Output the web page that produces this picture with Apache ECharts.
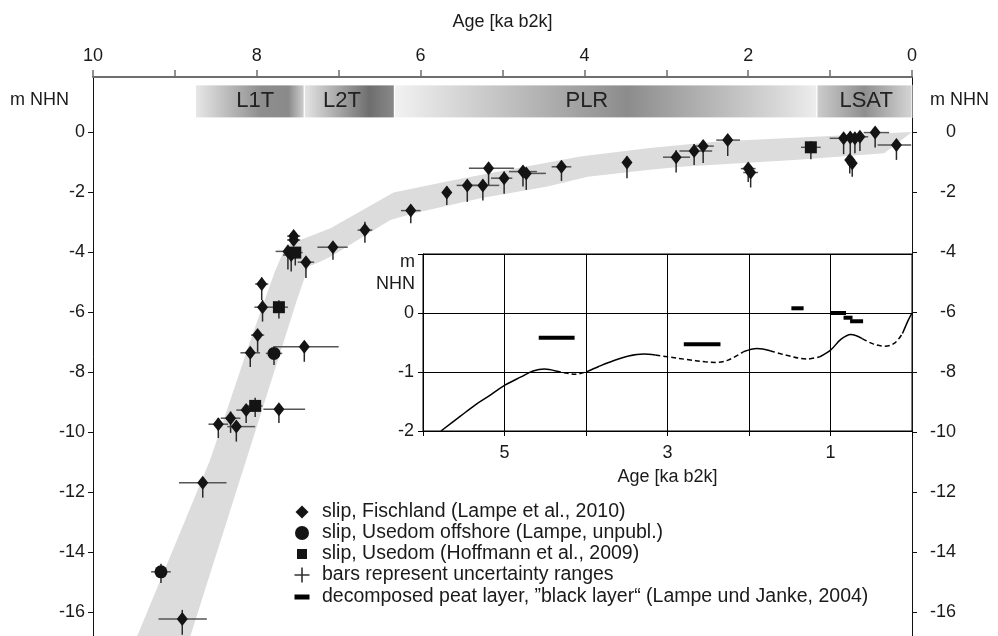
<!DOCTYPE html>
<html><head><meta charset="utf-8">
<script src="https://cdn.jsdelivr.net/npm/echarts@6/dist/echarts.min.js"></script>
<style>html,body{margin:0;padding:0;background:#fff}#c{width:998px;height:636px}</style>
</head><body><div id="c"></div>
<script>
// ---------------- DATA ----------------
// tick labels
const topAgeLabels = [10, 8, 6, 4, 2, 0];
const depthLabels = [0, -2, -4, -6, -8, -10, -12, -14, -16];
const insetAgeLabels = [5, 3, 1];
const insetDepthLabels = [0, -1, -2];

// series names
const nameFisch = 'slip, Fischland (Lampe et al., 2010)';
const nameOff = 'slip, Usedom offshore (Lampe, unpubl.)';
const nameUse = 'slip, Usedom (Hoffmann et al., 2009)';
const nameBars = 'bars represent uncertainty ranges';
const namePeat = 'decomposed peat layer, \u201Dblack layer\u201C (Lampe und Janke, 2004)';

// [age ka b2k, m NHN]
const fischlandPts = [
  [8.91,-16.23],[8.66,-11.69],[8.47,-9.74],[8.32,-9.54],[8.25,-9.82],[8.13,-9.27],[7.73,-9.24],
  [8.08,-7.36],[7.42,-7.16],[7.99,-6.77],[7.93,-5.84],[7.94,-5.07],[7.40,-4.34],[7.62,-3.98],
  [7.58,-4.10],[7.55,-3.47],[7.55,-3.60],[7.07,-3.84],[6.68,-3.27],[6.12,-2.62],[5.68,-2.02],
  [5.43,-1.78],[5.24,-1.78],[5.17,-1.21],[4.98,-1.54],[4.75,-1.32],[4.71,-1.38],[4.28,-1.16],
  [3.48,-1.02],[2.88,-0.84],[2.66,-0.63],[2.55,-0.47],[2.25,-0.27],[2.00,-1.22],[1.97,-1.35],
  [0.835,-0.21],[0.754,-0.18],[0.697,-0.21],[0.636,-0.16],[0.76,-0.93],[0.73,-1.04],
  [0.45,-0.02],[0.19,-0.43]
];
// uncertainty: [older ka, younger ka, up m, down m]
const fischlandErr = [
  [0.29,0.30,0.30,0.53],[0.29,0.29,0.16,0.50],[0.12,0.12,0.20,0.46],[0.12,0.12,0.22,0.49],
  [0.11,0.23,0.13,0.50],[0.12,0.12,0.13,0.43],[0.19,0.32,0.13,0.46],[0.12,0.12,0.15,0.47],
  [0.38,0.42,0.17,0.50],[0.08,0.08,0.13,0.56],[0.10,0.09,0.24,0.48],[0.08,0.08,0.22,0.53],
  [0.10,0.10,0.17,0.53],[0.15,0.15,0.13,0.60],[0.10,0.10,0.10,0.55],[0.08,0.08,0.17,0.10],
  [0.08,0.08,0.10,0.15],[0.19,0.18,0.13,0.42],[0.09,0.09,0.28,0.42],[0.12,0.12,0.19,0.42],
  [0.05,0.05,0.20,0.41],[0.13,0.13,0.16,0.55],[0.15,0.20,0.20,0.50],[0.24,0.31,0.10,0.56],
  [0.16,0.10,0.22,0.52],[0.17,0.17,0.17,0.50],[0.07,0.24,0.10,0.55],[0.12,0.12,0.20,0.47],
  [0.03,0.03,0.20,0.52],[0.16,0.17,0.23,0.51],[0.18,0.22,0.23,0.47],[0.11,0.13,0.14,0.56],
  [0.14,0.15,0.17,0.53],[0.09,0.09,0.17,0.45],[0.09,0.09,0.10,0.50],[0.17,0.05,0.10,0.53],
  [0.05,0.05,0.10,0.55],[0.05,0.05,0.10,0.50],[0.05,0.10,0.10,0.47],[0.05,0.05,0.15,0.45],
  [0.05,0.05,0.10,0.45],[0.14,0.17,0.16,0.50],[0.23,0.18,0.17,0.50]
];
const offshorePts = [[7.79,-7.38],[9.17,-14.66]];
const offshoreErr = [[0.10,0.10,0.13,0.39],[0.12,0.12,0.27,0.37]];
const usedomPts = [[7.53,-4.02],[7.73,-5.84],[8.02,-9.13],[1.235,-0.51]];
const usedomErr = [[0.09,0.09,0.10,0.43],[0.11,0.11,0.23,0.38],[0.09,0.09,0.27,0.37],[0.12,0.12,0.20,0.40]];

// sea-level envelope (grey band): upper edge then lower edge
const bandUpper = [[9.64,-18],[9.46,-16.8],[8.57,-10.93],[8.06,-6.8],[7.78,-4.66],[7.64,-3.77],[7.47,-3.6],
  [7.10,-3.21],[6.33,-2.02],[5.68,-1.65],[5.27,-1.43],[4.05,-0.82],[3.23,-0.54],[2.375,-0.32],[1.56,-0.21],[0.0,0.0]];
const bandLower = [[0.0,0.0],[0.34,-0.71],[1.44,-0.93],[2.82,-1.16],[3.23,-1.27],[3.96,-1.49],[4.45,-1.82],
  [5.27,-2.21],[6.08,-2.71],[6.37,-2.93],[7.10,-4.16],[7.22,-4.32],[7.37,-4.49],[7.51,-5.6],[8.95,-18]];

// phases
const phaseNames = ['L1T', 'L2T', 'PLR', 'LSAT'];
const phaseStart = [8.75, 7.42, 6.32, 1.16];
const phaseEnd = [7.42, 6.32, 1.16, 0.0];

// inset: black layer bars [start ka, end ka, m NHN]
const peatBars = [[4.58,4.14,-0.42],[2.80,2.35,-0.53],[1.48,1.33,0.08],[1.00,0.81,0.0],[0.84,0.73,-0.08],[0.76,0.60,-0.14]];
// inset curve [age, m NHN, dashed segment to next point]
const insetCurve = [
  [5.78,-2.0,0],[5.545,-1.753,0],[5.357,-1.556,0],[5.17,-1.388,0],[4.99,-1.219,0],[4.79,-1.079,0],
  [4.65,-0.983,0],[4.51,-0.949,0],[4.37,-0.983,1],[4.23,-1.022,1],[4.135,-1.039,1],[3.99,-0.994,0],
  [3.85,-0.91,0],[3.665,-0.809,0],[3.477,-0.73,0],[3.29,-0.697,0],[3.15,-0.713,1],[3.0,-0.742,1],
  [2.77,-0.787,1],[2.54,-0.826,1],[2.40,-0.837,1],[2.256,-0.798,1],[2.07,-0.657,0],[1.90,-0.60,0],
  [1.74,-0.64,1],[1.55,-0.713,1],[1.29,-0.78,1],[1.13,-0.742,0],[1.0,-0.63,0],[0.87,-0.444,0],
  [0.75,-0.365,0],[0.61,-0.433,1],[0.47,-0.528,1],[0.33,-0.562,1],[0.21,-0.506,1],[0.117,-0.348,0],
  [0.047,-0.124,0],[0,0,0]
];

// ---------------- STYLE / LAYOUT ----------------
const FONT = '"Liberation Sans", Arial, Helvetica, sans-serif';
const PHASE_Y = [1.57, 0.47];
const phaseLabelAge = [8.02, 6.96, 3.97, 0.56];
const phaseStops = [
  [[0,'#e8e8e8'],[0.6,'#8e8e8e'],[0.85,'#8a8a8a'],[1,'#d2d2d2']],
  [[0,'#e6e6e6'],[0.72,'#6e6e6e'],[1,'#8a8a8a']],
  [[0,'#f2f2f2'],[0.55,'#8c8c8c'],[0.92,'#dadada'],[1,'#eeeeee']],
  [[0,'#cdcdcd'],[0.5,'#8f8f8f'],[1,'#d6d6d6']]
];

function errRows(pts, errs) { return pts.map((p, i) => [p[0], p[1]].concat(errs[i])); }
const errData = errRows(fischlandPts, fischlandErr).concat(errRows(offshorePts, offshoreErr), errRows(usedomPts, usedomErr));

function pieces(flag) {
  const out = []; let cur = null;
  for (let i = 0; i < insetCurve.length - 1; i++) {
    if (insetCurve[i][2] === flag) {
      if (!cur) { cur = [[insetCurve[i][0], insetCurve[i][1]]]; out.push(cur); }
      cur.push([insetCurve[i + 1][0], insetCurve[i + 1][1]]);
    } else cur = null;
  }
  return out;
}

const chart = echarts.init(document.getElementById('c'), null, { renderer: 'canvas' });
const txt = { fontFamily: FONT, fontSize: 18, color: '#1a1a1a' };

const series = [
  {
    type: 'custom', name: 'band', xAxisIndex: 0, yAxisIndex: 0, z: 1, silent: true,
    data: [[0, 0]],
    renderItem: function (params, api) {
      const pts = bandUpper.concat(bandLower).map(p => api.coord(p));
      return { type: 'polygon', shape: { points: pts }, style: { fill: '#dcdcdc' } };
    }
  },
  {
    type: 'custom', name: 'phases', xAxisIndex: 0, yAxisIndex: 0, z: 3, silent: true,
    data: phaseNames.map((n, i) => ({ name: n, value: [phaseStart[i], phaseEnd[i], i] })),
    renderItem: function (params, api) {
      const i = api.value(2);
      const a = api.coord([api.value(0), PHASE_Y[0]]);
      const b = api.coord([api.value(1), PHASE_Y[1]]);
      const c = api.coord([phaseLabelAge[i], (PHASE_Y[0] + PHASE_Y[1]) / 2]);
      return {
        type: 'group', children: [
          { type: 'rect', shape: { x: a[0], y: a[1], width: b[0] - a[0], height: b[1] - a[1] },
            style: { fill: new echarts.graphic.LinearGradient(0, 0, 1, 0, phaseStops[i].map(s => ({ offset: s[0], color: s[1] }))), stroke: '#fff', lineWidth: 1 } },
          { type: 'text', x: c[0], y: c[1], style: { text: phaseNames[i], fill: '#222', font: '22px ' + FONT, align: 'center', verticalAlign: 'middle' } }
        ]
      };
    }
  },
  {
    type: 'custom', name: nameBars, xAxisIndex: 0, yAxisIndex: 0, z: 4, silent: true,
    itemStyle: { color: '#333' },
    data: errData,
    renderItem: function (params, api) {
      const x = api.value(0), y = api.value(1);
      const h0 = api.coord([x + api.value(2), y]), h1 = api.coord([x - api.value(3), y]);
      const v0 = api.coord([x, y + api.value(4)]), v1 = api.coord([x, y - api.value(5)]);
      return {
        type: 'group', children: [
          { type: 'line', shape: { x1: h0[0], y1: h0[1], x2: h1[0], y2: h1[1] }, style: { stroke: '#555', lineWidth: 1.5 } },
          { type: 'line', shape: { x1: v0[0], y1: v0[1], x2: v1[0], y2: v1[1] }, style: { stroke: '#2a2a2a', lineWidth: 1.5 } }
        ]
      };
    }
  },
  { type: 'scatter', name: nameFisch, xAxisIndex: 0, yAxisIndex: 0, z: 5, symbol: 'diamond', symbolSize: [11, 14], itemStyle: { color: '#141414', opacity: 1 }, data: fischlandPts, silent: true },
  { type: 'scatter', name: nameOff, xAxisIndex: 0, yAxisIndex: 0, z: 5, symbol: 'circle', symbolSize: 13, itemStyle: { color: '#141414', opacity: 1 }, data: offshorePts, silent: true },
  { type: 'scatter', name: nameUse, xAxisIndex: 0, yAxisIndex: 0, z: 5, symbol: 'rect', symbolSize: 12, itemStyle: { color: '#141414', opacity: 1 }, data: usedomPts, silent: true },
  {
    type: 'custom', name: namePeat, xAxisIndex: 1, yAxisIndex: 2, z: 5, silent: true,
    itemStyle: { color: '#000' },
    data: peatBars,
    renderItem: function (params, api) {
      const a = api.coord([api.value(0), api.value(2)]);
      const b = api.coord([api.value(1), api.value(2)]);
      return { type: 'rect', shape: { x: a[0], y: a[1] - 2, width: b[0] - a[0], height: 4 }, style: { fill: '#000' } };
    }
  }
];
pieces(0).forEach(p => series.push({ type: 'line', xAxisIndex: 1, yAxisIndex: 2, z: 4, silent: true, showSymbol: false, symbol: 'none', smooth: 0.35, data: p, lineStyle: { color: '#000', width: 1.5, type: 'solid' } }));
pieces(1).forEach(p => series.push({ type: 'line', xAxisIndex: 1, yAxisIndex: 2, z: 4, silent: true, showSymbol: false, symbol: 'none', smooth: 0.35, data: p, lineStyle: { color: '#000', width: 1.5, type: [5, 3] } }));

function legendItem(name, icon, left, top, w, h, pad) {
  return {
    data: [name], icon: icon, left: left, top: top, itemWidth: w, itemHeight: h, padding: 0,
    selectedMode: false, orient: 'vertical',
    textStyle: { fontFamily: FONT, fontSize: 19.5, color: '#1a1a1a', padding: [0, 0, 0, pad] }
  };
}

const option = {
  animation: false,
  backgroundColor: '#fff',
  grid: [
    { left: 93, width: 819, top: 77, height: 595, containLabel: false, outerBoundsMode: 'none' },
    { left: 423, width: 489, top: 254, height: 177, containLabel: false, outerBoundsMode: 'none', show: true, backgroundColor: '#fff', borderColor: '#000', borderWidth: 1 }
  ],
  xAxis: [
    {
      type: 'value', gridIndex: 0, position: 'top', inverse: true, min: 0, max: 10, interval: 1,
      axisLine: { show: true, onZero: false, lineStyle: { color: '#6e6e6e', width: 2 } },
      axisTick: { show: true, inside: false, length: 7, lineStyle: { color: '#6e6e6e', width: 1.5 } },
      axisLabel: Object.assign({ margin: 12, formatter: v => topAgeLabels.includes(v) ? String(v) : '' }, txt),
      splitLine: { show: false },
      name: 'Age [ka b2k]', nameLocation: 'middle', nameGap: 46, nameTextStyle: txt
    },
    {
      type: 'value', gridIndex: 1, position: 'bottom', inverse: true, min: 0, max: 6, interval: 1,
      axisLine: { show: true, onZero: false, lineStyle: { color: '#000', width: 1 } },
      axisTick: { show: true, inside: false, length: 5, lineStyle: { color: '#000', width: 1 } },
      axisLabel: Object.assign({ margin: 13, formatter: v => insetAgeLabels.includes(v) ? String(v) : '' }, txt),
      splitLine: { show: true, lineStyle: { color: '#000', width: 1 } },
      name: 'Age [ka b2k]', nameLocation: 'middle', nameGap: 37, nameTextStyle: txt
    }
  ],
  yAxis: [
    {
      type: 'value', gridIndex: 0, position: 'left', min: -18, max: 11 / 6, interval: 2,
      axisLine: { show: true, onZero: false, lineStyle: { color: '#111', width: 1 } },
      axisTick: { show: true, inside: false, length: 5, lineStyle: { color: '#111', width: 1 } },
      axisLabel: Object.assign({ margin: 8, showMaxLabel: false, formatter: v => depthLabels.includes(v) ? String(v) : '' }, txt),
      splitLine: { show: false }
    },
    {
      type: 'value', gridIndex: 0, position: 'right', min: -18, max: 11 / 6, interval: 2,
      axisLine: { show: true, onZero: false, lineStyle: { color: '#111', width: 1 } },
      axisTick: { show: true, inside: false, length: 5, lineStyle: { color: '#111', width: 1 } },
      axisLabel: Object.assign({ margin: 44, align: 'right', showMaxLabel: false, formatter: v => depthLabels.includes(v) ? String(v) : '' }, txt),
      splitLine: { show: false }
    },
    {
      type: 'value', gridIndex: 1, position: 'left', min: -2, max: 1, interval: 1,
      axisLine: { show: true, onZero: false, lineStyle: { color: '#000', width: 1 } },
      axisTick: { show: true, inside: false, length: 5, lineStyle: { color: '#000', width: 1 } },
      axisLabel: Object.assign({ margin: 9, formatter: v => insetDepthLabels.includes(v) ? String(v) : '' }, txt),
      splitLine: { show: true, lineStyle: { color: '#000', width: 1 } }
    }
  ],
  legend: [
    legendItem(nameFisch, 'diamond', 295.5, 502, 13, 13, 8.5),
    legendItem(nameOff, 'circle', 295, 523, 14, 14, 8),
    legendItem(nameUse, 'rect', 297, 544, 10, 10, 10),
    legendItem(nameBars, 'path://M6.25,0h1.5v14h-1.5zM0,6.25h14v1.5h-14z', 294.5, 565, 15, 15, 7.5),
    legendItem(namePeat, 'rect', 294.5, 587, 15, 5, 7.5)
  ],
  graphic: [
    { type: 'text', left: 10, top: 91, style: { text: 'm NHN', font: '18px ' + FONT, fill: '#1a1a1a' } },
    { type: 'text', left: 930, top: 91, style: { text: 'm NHN', font: '18px ' + FONT, fill: '#1a1a1a' } },
    { type: 'text', right: 583, top: 253, style: { text: 'm', font: '18px ' + FONT, fill: '#1a1a1a', align: 'right' } },
    { type: 'text', right: 583, top: 275, style: { text: 'NHN', font: '18px ' + FONT, fill: '#1a1a1a', align: 'right' } }
  ],
  series: series
};
chart.setOption(option);
</script>
</body></html>
